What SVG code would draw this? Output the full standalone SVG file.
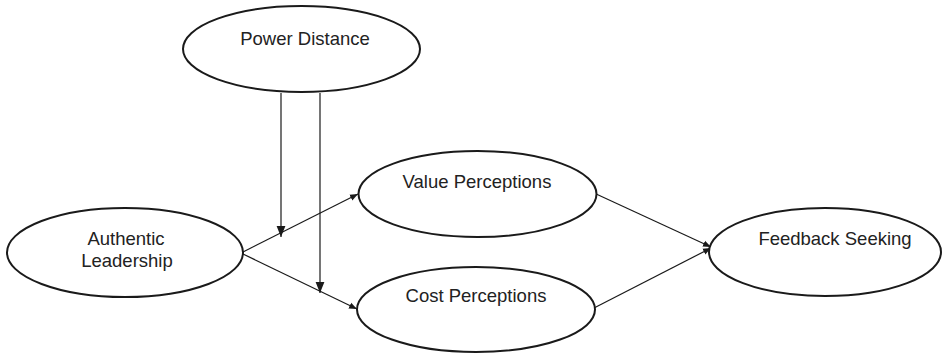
<svg xmlns="http://www.w3.org/2000/svg" width="942" height="358" viewBox="0 0 942 358">
<style>
.node ellipse{fill:#fff;stroke:#1a1a1a;stroke-width:2}
.node text{font-family:"Liberation Sans",Arial,sans-serif;font-size:18.5px;fill:#222;text-anchor:middle}
.edge{stroke:#1a1a1a;stroke-width:1.2;fill:none}
</style>
<defs>
<marker id="a" viewBox="0 0 10 10" refX="10" refY="5" markerWidth="8" markerHeight="8" markerUnits="userSpaceOnUse" orient="auto"><path d="M0,1 L10,5 L0,9 z" fill="#1a1a1a"/></marker>
<marker id="b" viewBox="0 0 10 10" refX="10" refY="5" markerWidth="11" markerHeight="11" markerUnits="userSpaceOnUse" orient="auto"><path d="M0,1 L10,5 L0,9 z" fill="#1a1a1a"/></marker>
</defs>
<g id="connectors">
<line class="edge" x1="243" y1="252" x2="358" y2="194" marker-end="url(#a)"/>
<line class="edge" x1="243" y1="254" x2="357" y2="309" marker-end="url(#a)"/>
<line class="edge" x1="594" y1="193" x2="711" y2="247" marker-end="url(#a)"/>
<line class="edge" x1="594" y1="308" x2="711" y2="248" marker-end="url(#a)"/>
<line class="edge" x1="281" y1="93" x2="281" y2="237" marker-end="url(#b)"/>
<line class="edge" x1="320" y1="93" x2="320" y2="293" marker-end="url(#b)"/>
</g>
<g id="power-distance" class="node"><ellipse cx="301.5" cy="49" rx="118.5" ry="43"/><text x="305" y="45">Power Distance</text></g>
<g id="authentic-leadership" class="node"><ellipse cx="125" cy="252.5" rx="118" ry="44.5"/><text x="126" y="245">Authentic</text><text x="127" y="267">Leadership</text></g>
<g id="value-perceptions" class="node"><ellipse cx="477.5" cy="194" rx="119" ry="43"/><text x="477" y="188">Value Perceptions</text></g>
<g id="cost-perceptions" class="node"><ellipse cx="476" cy="309.5" rx="119" ry="42.5"/><text x="476" y="302">Cost Perceptions</text></g>
<g id="feedback-seeking" class="node"><ellipse cx="825" cy="252" rx="116" ry="44"/><text x="835" y="245">Feedback Seeking</text></g>
</svg>
